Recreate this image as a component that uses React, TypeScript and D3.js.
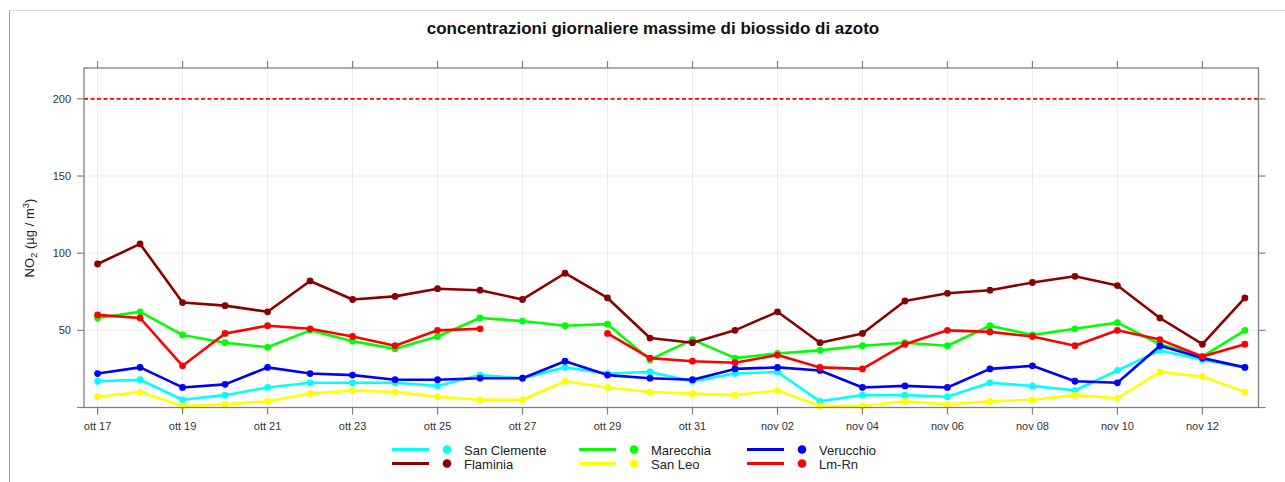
import React from "react";
import * as d3 from "d3";

const dates: string[] = [
  "2020-10-17","2020-10-18","2020-10-19","2020-10-20","2020-10-21","2020-10-22","2020-10-23",
  "2020-10-24","2020-10-25","2020-10-26","2020-10-27","2020-10-28","2020-10-29","2020-10-30",
  "2020-10-31","2020-11-01","2020-11-02","2020-11-03","2020-11-04","2020-11-05","2020-11-06",
  "2020-11-07","2020-11-08","2020-11-09","2020-11-10","2020-11-11","2020-11-12","2020-11-13",
];

const sanClemente = [17,18,5,8,13,16,16,16,14,21,19,26,22,23,17,22,23,4,8,8,7,16,14,11,24,37,31,26];
const marecchia = [58,62,47,42,39,50,43,38,46,58,56,53,54,31,44,32,35,37,40,42,40,53,47,51,55,41,33,50];
const verucchio = [22,26,13,15,26,22,21,18,18,19,19,30,21,19,18,25,26,24,13,14,13,25,27,17,16,40,32,26];
const flaminia = [93,106,68,66,62,82,70,72,77,76,70,87,71,45,42,50,62,42,48,69,74,76,81,85,79,58,41,71];
const sanLeo = [7,10,1,2,4,9,11,10,7,5,5,17,13,10,9,8,11,1,1,4,2,4,5,8,6,23,20,10];
const lmRn: (number | null)[] = [60,58,27,48,53,51,46,40,50,51,null,null,48,32,30,29,34,26,25,41,50,49,46,40,50,44,33,41];

const seriesNames = ["San Clemente", "Marecchia", "Verucchio", "Flaminia", "San Leo", "Lm-Rn"];
const seriesColors = ["#00FFFF", "#00FF00", "#0000FF", "#8B0000", "#FFFF00", "#FF0000"];
const seriesValues: (number | null)[][] = [sanClemente, marecchia, verucchio, flaminia, sanLeo, lmRn];

const yTicks = [0, 50, 100, 150, 200];
const limitValue = 200;
const monthAbbr = ["gen","feb","mar","apr","mag","giu","lug","ago","set","ott","nov","dic"];

const title = "concentrazioni giornaliere massime di biossido di azoto";

export default function App() {
  const W = 1285, H = 482;
  const left = 84, right = 1258.5, top = 68, bottom = 407.5;
  const parse = d3.timeParse("%Y-%m-%d");
  const ds = dates.map((s) => parse(s) as Date);
  const dayMs = 86400000;
  const x = d3
    .scaleTime()
    .domain([new Date(+ds[0] - 0.32 * dayMs), new Date(+ds[ds.length - 1] + 0.32 * dayMs)])
    .range([left, right]);
  const y = d3.scaleLinear().domain([0, 220]).range([bottom, top]);
  const xTicks = ds.filter((_, i) => i % 2 === 0);
  const fmt = (d: Date) =>
    `${monthAbbr[d.getMonth()]} ${String(d.getDate()).padStart(2, "0")}`;

  const line = d3
    .line<number | null>()
    .defined((v) => v != null)
    .x((_, i) => x(ds[i]))
    .y((v) => y(v as number));

  const font = "Liberation Sans, Arial, Helvetica, sans-serif";
  const axisColor = "#808080";
  const gridColor = "#ececec";
  const tickLen = 7;

  const legendCols = [392, 579, 747];
  const legendRows = [449.5, 463.5];

  return (
    <svg
      width={W}
      height={H}
      style={{ position: "absolute", left: 0, top: 0, background: "#fff" }}
      fontFamily={font}
    >
      <rect x={9.5} y={10.5} width={W + 20} height={H + 20} fill="#fff" stroke="#dcdcdc" />
      <line x1={9.5} x2={9.5} y1={10} y2={H} stroke="#a0a0a0" />
      <text x={653} y={34} textAnchor="middle" fontSize={17} fontWeight="bold" fill="#111">
        {title}
      </text>

      {/* grid */}
      {xTicks.map((d, i) => (
        <line key={"gx" + i} x1={x(d)} x2={x(d)} y1={top} y2={bottom} stroke={gridColor} />
      ))}
      {yTicks.map((v) => (
        <line key={"gy" + v} x1={left} x2={right} y1={y(v)} y2={y(v)} stroke={gridColor} />
      ))}

      {/* limit line */}
      <line
        x1={left}
        x2={right}
        y1={y(limitValue)}
        y2={y(limitValue)}
        stroke="#FF0000"
        strokeWidth={1.6}
        strokeDasharray="4,2.5"
      />

      {/* series */}
      {seriesValues.map((vals, s) => (
        <g key={"s" + s}>
          <path d={line(vals) || ""} fill="none" stroke={seriesColors[s]} strokeWidth={2.6} strokeLinejoin="round" />
          {vals.map((v, i) =>
            v == null ? null : (
              <circle key={i} cx={x(ds[i])} cy={y(v)} r={3.4} fill={seriesColors[s]} />
            )
          )}
        </g>
      ))}

      {/* box */}
      <rect x={left} y={top} width={right - left} height={bottom - top} fill="none" stroke={axisColor} strokeWidth={1.3} />

      {/* x ticks */}
      {xTicks.map((d, i) => (
        <g key={"xt" + i}>
          <line x1={x(d)} x2={x(d)} y1={bottom} y2={bottom + tickLen} stroke={axisColor} strokeWidth={1.2} />
          <line x1={x(d)} x2={x(d)} y1={top} y2={top - tickLen} stroke={axisColor} strokeWidth={1.2} />
          <text x={x(d)} y={430} textAnchor="middle" fontSize={11} fill="#333">
            {fmt(d)}
          </text>
        </g>
      ))}

      {/* y ticks */}
      {yTicks.map((v) => (
        <g key={"yt" + v}>
          <line x1={left - tickLen} x2={left} y1={y(v)} y2={y(v)} stroke={axisColor} strokeWidth={1.2} />
          <line x1={right} x2={right + tickLen} y1={y(v)} y2={y(v)} stroke={axisColor} strokeWidth={1.2} />
          {v > 0 && (
            <text x={71} y={y(v) + 3.8} textAnchor="end" fontSize={11} fill="#333">
              {v}
            </text>
          )}
        </g>
      ))}

      {/* y label */}
      <text transform="translate(34,238) rotate(-90)" textAnchor="middle" fontSize={13} fill="#222">
        NO
        <tspan fontSize={9.5} dy={3}>2</tspan>
        <tspan dy={-3}> (µg / m</tspan>
        <tspan fontSize={9.5} dy={-5}>3</tspan>
        <tspan dy={5}>)</tspan>
      </text>

      {/* legend */}
      {seriesNames.map((name, s) => {
        const col = legendCols[s % 3];
        const row = legendRows[Math.floor(s / 3)];
        return (
          <g key={"lg" + s}>
            <line x1={col} x2={col + 37} y1={row} y2={row} stroke={seriesColors[s]} strokeWidth={3} />
            <circle cx={col + 55} cy={row} r={4.3} fill={seriesColors[s]} />
            <text x={col + 72} y={row + 5} fontSize={13} fill="#222">
              {name}
            </text>
          </g>
        );
      })}
    </svg>
  );
}
